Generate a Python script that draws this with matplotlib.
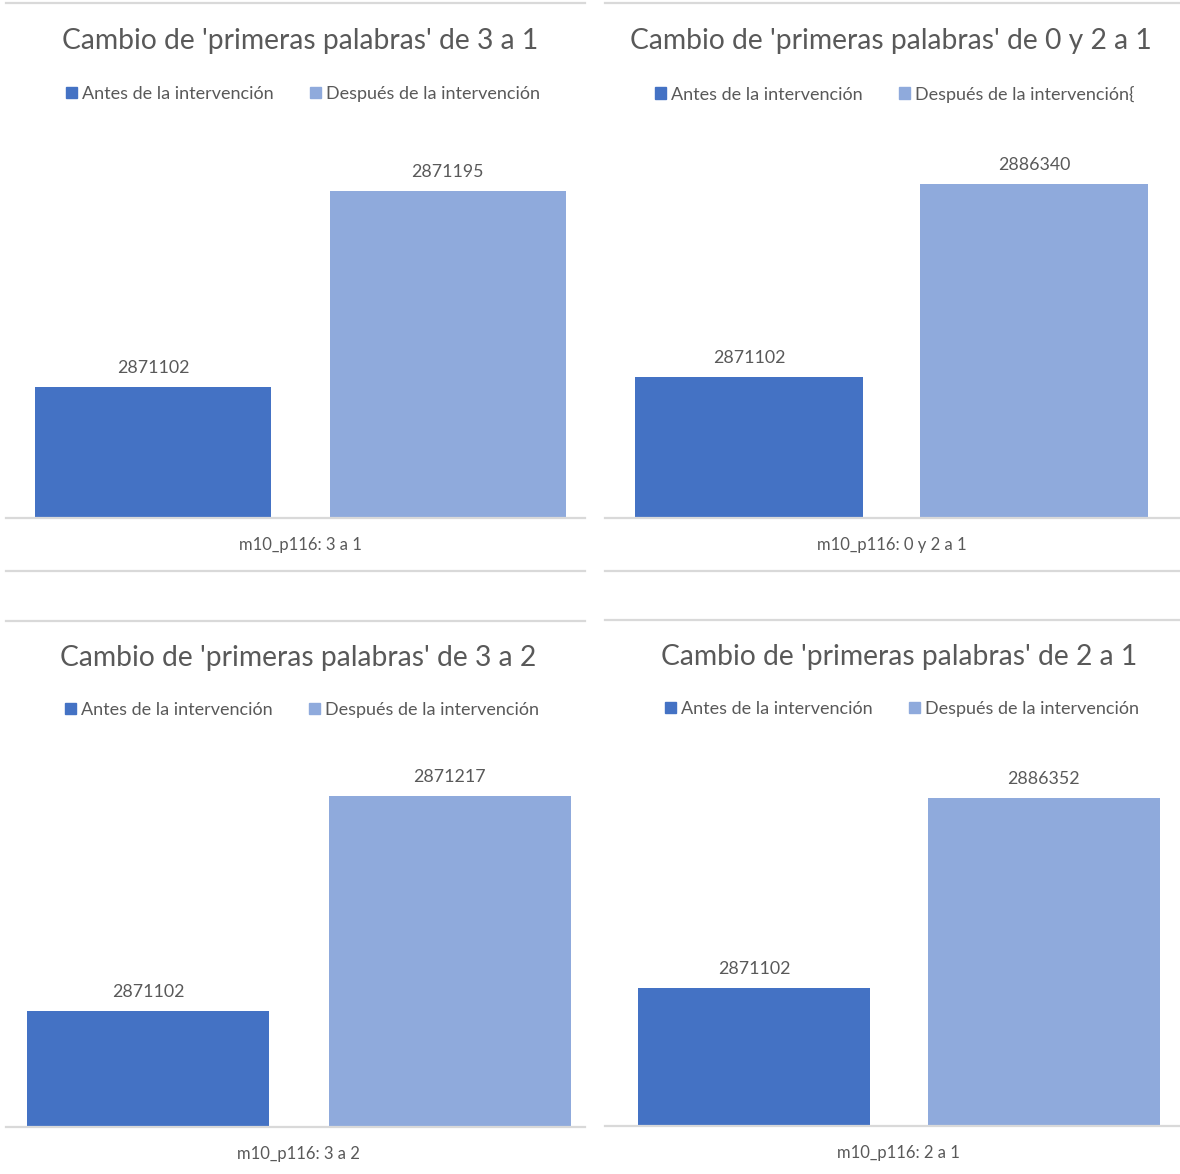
import matplotlib
matplotlib.use("Agg")
import matplotlib.pyplot as plt
from matplotlib.lines import Line2D
from matplotlib.patches import Patch

plt.rcParams["font.family"] = ["Lato", "DejaVu Sans"]

# ---- chart content ----
titles = [
    "Cambio de 'primeras palabras' de 3 a 1",
    "Cambio de 'primeras palabras' de 0 y 2 a 1",
    "Cambio de 'primeras palabras' de 3 a 2",
    "Cambio de 'primeras palabras' de 2 a 1",
]
categories = [
    "m10_p116: 3 a 1",
    "m10_p116: 0 y 2 a 1",
    "m10_p116: 3 a 2",
    "m10_p116: 2 a 1",
]
series_antes = ["Antes de la intervención"] * 4
series_despues = [
    "Después de la intervención",
    "Después de la intervención{",
    "Después de la intervención",
    "Después de la intervención",
]
antes = [2871102, 2871102, 2871102, 2871102]
despues = [2871195, 2886340, 2871217, 2886352]
axis_min = [2871040, 2860000, 2871040, 2860000]
axis_max = [2871220, 2890000, 2871240, 2890000]

# ---- styling ----
C_ANTES = "#4472C4"
C_DESPUES = "#8FAADC"
C_GRID = "#D9D9D9"
C_TEXT = "#595959"

W, H = 1180, 1174
fig = plt.figure(figsize=(W / 100, H / 100), dpi=100)
fig.patch.set_facecolor("white")


def fx(x):
    return x / W


def fy(y):
    return 1 - y / H


def hline(x0, x1, y):
    fig.add_artist(Line2D([fx(x0), fx(x1)], [fy(y), fy(y)],
                          transform=fig.transFigure, color=C_GRID, lw=1.6))


# panel geometry in pixels: panel left/right, plot top/bottom,
# bar centers, bar width, title/legend/frame rows
panels = [
    dict(L=6, R=585, top=138, bot=518, cb=153, cl=447.5, bw=236,
         title_y=41, leg_y=94, frame_top=3, frame_bot=571, cx=300, lx=303),
    dict(L=605, R=1180, top=138, bot=518, cb=749, cl=1034, bw=228,
         title_y=41, leg_y=94, frame_top=3, frame_bot=571, cx=891, lx=895),
    dict(L=6, R=585, top=753, bot=1127, cb=148, cl=449.5, bw=242,
         title_y=658, leg_y=710, frame_top=621, frame_bot=None, cx=298, lx=302),
    dict(L=605, R=1180, top=753, bot=1126, cb=754, cl=1043.5, bw=232,
         title_y=657, leg_y=709, frame_top=620, frame_bot=None, cx=899, lx=902),
]

for i, p in enumerate(panels):
    ax = fig.add_axes([fx(p["L"]), fy(p["bot"]), fx(p["R"] - p["L"]),
                       (p["bot"] - p["top"]) / H])
    unit = p["cl"] - p["cb"]
    width = p["bw"] / unit
    ax.set_xlim((p["L"] - p["cb"]) / unit, 1 + (p["R"] - p["cl"]) / unit)
    ax.set_ylim(axis_min[i], axis_max[i])

    ax.bar([0], [antes[i] - axis_min[i]], bottom=axis_min[i],
           width=width, color=C_ANTES)
    ax.bar([1], [despues[i] - axis_min[i]], bottom=axis_min[i],
           width=width, color=C_DESPUES)
    for x, v in ((0, antes[i]), (1, despues[i])):
        ax.annotate(f"{v}", (x, v), xytext=(0, 8), textcoords="offset points",
                    ha="center", va="bottom", fontsize=12.8, color=C_TEXT)

    for s in ("top", "left", "right"):
        ax.spines[s].set_visible(False)
    ax.spines["bottom"].set_color(C_GRID)
    ax.spines["bottom"].set_linewidth(1.6)
    ax.set_yticks([])
    ax.set_xticks([0.5])
    ax.set_xticklabels([categories[i]], fontsize=12, color=C_TEXT)
    ax.tick_params(axis="x", length=0, pad=14)
    ax.patch.set_alpha(0)

    fig.text(fx(p["cx"]), fy(p["title_y"]), titles[i], ha="center",
             va="center", fontsize=20.3, color=C_TEXT)

    handles = [Patch(color=C_ANTES), Patch(color=C_DESPUES)]
    fig.legend(handles, [series_antes[i], series_despues[i]],
               loc="center", bbox_to_anchor=(fx(p["lx"]), fy(p["leg_y"])),
               ncol=2, frameon=False, fontsize=13, labelcolor=C_TEXT,
               handlelength=0.6, handleheight=0.6, handletextpad=0.3,
               columnspacing=2.0, borderaxespad=0, borderpad=0)

    hline(p["L"], p["R"], p["frame_top"])
    if p["frame_bot"] is not None:
        hline(p["L"], p["R"], p["frame_bot"])

fig.savefig("out.png", dpi=100, facecolor="white")
